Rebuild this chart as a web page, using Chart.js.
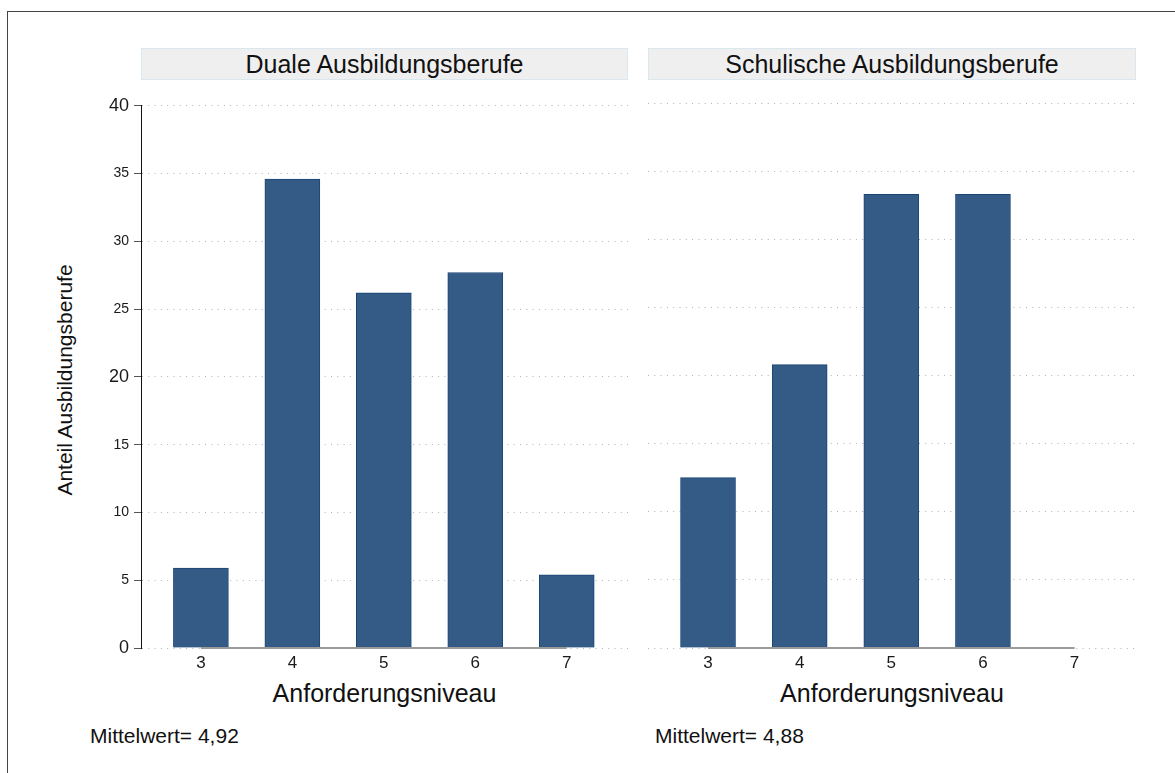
<!DOCTYPE html>
<html>
<head>
<meta charset="utf-8">
<script src="https://cdn.jsdelivr.net/npm/chart.js@4.4.1/dist/chart.umd.min.js"></script>
<style>
  html, body { margin: 0; padding: 0; background: #fff; overflow: hidden; }
  body { width: 1175px; height: 773px; position: relative; font-family: "Liberation Sans", Arial, sans-serif; color: #111; }
  .abs { position: absolute; }
  #frame { left: 7px; top: 11px; width: 1300px; height: 900px; border: 1px solid #444; }
  .strip { top: 48px; height: 30px; background: #efefef; border: 1px solid #dbe7ee; text-align: center; line-height: 30px; font-size: 25px; white-space: nowrap; }
  .xt { top: 678px; width: 400px; text-align: center; font-size: 25px; line-height: 30px; white-space: nowrap; }
  .mw { top: 723px; font-size: 21px; line-height: 26px; white-space: nowrap; }
  #ytitle { left: -85px; top: 367px; width: 300px; text-align: center; font-size: 21px; line-height: 26px; transform: rotate(-90deg); white-space: nowrap; }
</style>
</head>
<body>
<div id="frame" class="abs"></div>
<div id="strip0" class="abs strip"></div>
<div id="strip1" class="abs strip"></div>
<div id="ytitle" class="abs"></div>
<div id="xt0" class="abs xt"></div>
<div id="xt1" class="abs xt"></div>
<div id="mw0" class="abs mw"></div>
<div id="mw1" class="abs mw"></div>
<canvas id="c0" class="abs" width="640" height="600" style="left:0px;top:90px;"></canvas>
<canvas id="c1" class="abs" width="535" height="600" style="left:640px;top:90px;"></canvas>
<script>
// ---- data ----
const levels = [3, 4, 5, 6, 7];
const dualeValues = [5.9, 34.6, 26.2, 27.7, 5.4];
const schulischeValues = [12.5, 20.8, 33.3, 33.3, 0];
const panelTitles = ['Duale Ausbildungsberufe', 'Schulische Ausbildungsberufe'];
const meanLabels = ['Mittelwert= 4,92', 'Mittelwert= 4,88'];
const xAxisTitle = 'Anforderungsniveau';
const yAxisTitle = 'Anteil Ausbildungsberufe';
const yMin = 0, yMax = 40, yStep = 5;

// ---- text ----
const FONT = '"Liberation Sans", Arial, sans-serif';
document.getElementById('strip0').textContent = panelTitles[0];
document.getElementById('strip1').textContent = panelTitles[1];
document.getElementById('ytitle').textContent = yAxisTitle;
document.getElementById('xt0').textContent = xAxisTitle;
document.getElementById('xt1').textContent = xAxisTitle;
document.getElementById('mw0').textContent = meanLabels[0];
document.getElementById('mw1').textContent = meanLabels[1];

Chart.defaults.font.family = FONT;
Chart.defaults.color = '#222';

const axisLinePlugin = {
  id: 'axisLine',
  afterDatasetsDraw(chart) {
    const xs = chart.scales.x, ys = chart.scales.y;
    const ctx = chart.ctx;
    const y = ys.getPixelForValue(0);
    ctx.save();
    ctx.strokeStyle = '#9a9a9a';
    ctx.lineWidth = 2;
    ctx.beginPath();
    ctx.moveTo(xs.getPixelForValue(levels[0]), y);
    ctx.lineTo(xs.getPixelForValue(levels[levels.length - 1]), y);
    ctx.stroke();
    ctx.restore();
  }
};

function makeChart(id, values, showY, padding, xmin, xmax) {
  return new Chart(document.getElementById(id), {
    type: 'bar',
    data: {
      datasets: [{
        data: levels.map((x, i) => ({ x: x, y: values[i] })),
        backgroundColor: '#345b86',
        borderColor: '#1b4577',
        borderWidth: 1,
        barThickness: 55
      }]
    },
    plugins: [axisLinePlugin],
    options: {
      responsive: false,
      devicePixelRatio: 1,
      animation: false,
      layout: { padding: padding },
      plugins: { legend: { display: false }, tooltip: { enabled: false } },
      scales: {
        x: {
          type: 'linear',
          offset: false,
          min: xmin, max: xmax,
          afterBuildTicks: (s) => { s.ticks = levels.map(v => ({ value: v })); },
          afterFit: (s) => { s.height = 42; },
          grid: { display: false, drawTicks: false, offset: false },
          border: { display: false },
          ticks: { font: { size: 17 }, padding: 5, color: '#1a1a1a', callback: (v) => String(v), maxRotation: 0 }
        },
        y: {
          min: yMin, max: yMax,
          afterFit: (s) => { s.width = showY ? 141 : 0; },
          ticks: {
            display: showY,
            stepSize: yStep,
            padding: 5,
            color: '#1a1a1a',
            font: (ctx) => ({ size: (ctx.tick && ctx.tick.value % 20 === 0) ? 18 : 14 })
          },
          grid: {
            color: '#b0b0b0',
            lineWidth: 1,
            drawTicks: showY,
            tickLength: 7,
            tickColor: '#555',
            tickWidth: 1
          },
          border: { display: showY, color: '#111', width: 1, dash: [1, 5.3] }
        }
      }
    }
  });
}

makeChart('c0', dualeValues, true, { left: 0, right: 12, top: 13, bottom: 0 }, 2.345, 7.67);
makeChart('c1', schulischeValues, false, { left: 8, right: 39, top: 13, bottom: 0 }, 2.345, 7.67);

const c0 = Chart.getChart('c0'), c1 = Chart.getChart('c1');
const a0 = c0.chartArea, a1 = c1.chartArea;
const s0 = document.getElementById('strip0'), s1 = document.getElementById('strip1');
s0.style.left = (0 + a0.left) + 'px'; s0.style.width = (a0.right - a0.left - 2) + 'px';
s1.style.left = (640 + a1.left) + 'px'; s1.style.width = (a1.right - a1.left - 2) + 'px';
document.getElementById('xt0').style.left = ((a0.left + a0.right) / 2 - 200) + 'px';
document.getElementById('xt1').style.left = (640 + (a1.left + a1.right) / 2 - 200) + 'px';
document.getElementById('mw0').style.left = '90px';
document.getElementById('mw1').style.left = '655px';
</script>
</body>
</html>
